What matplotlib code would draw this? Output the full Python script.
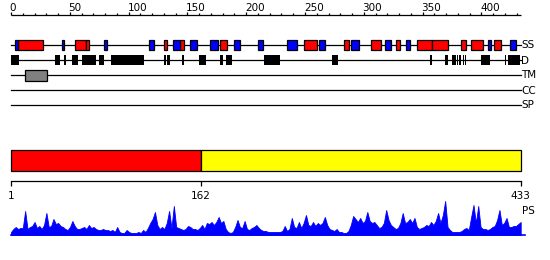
import matplotlib
matplotlib.use("Agg")
import matplotlib.pyplot as plt
from matplotlib.patches import Rectangle
import numpy as np

# ---------------- data ----------------
seq_len = 433
ruler_major = [0, 50, 100, 150, 200, 250, 300, 350, 400]
ruler_minor = list(range(0, 431, 10))

helices = [(6, 27), (54, 64), (64, 66), (130, 133), (144, 147), (178, 184),
           (249, 260), (283, 287), (306, 315), (327, 331), (345, 358), (358, 372),
           (383, 387), (391, 401), (411, 417)]
strands = [(3, 6), (43, 45), (79, 82), (117, 122), (138, 144), (152, 158),
           (169, 176), (190, 195), (210, 214), (235, 243), (262, 267), (289, 296),
           (318, 323), (336, 339), (406, 408), (424, 429)]
disorder = [(0, 7), (37, 42), (45, 47), (52, 57), (60, 72), (75, 79), (85, 113),
            (130, 132), (133, 135), (145, 147), (160, 166), (178, 180), (183, 188),
            (215, 229), (273, 278), (356, 358), (369, 372), (375, 378), (379, 380),
            (381, 383), (384, 385), (386, 387), (400, 407), (420, 421), (423, 433)]
transmem = [(12, 31)]
coiled = []
signal = []
track_names = ["SS", "D", "TM", "CC", "SP"]

domain_bounds = [1, 162, 433]
domain_colors = ["#ff0000", "#ffff00"]

ps_res = list(range(1, 434, 2))
ps_val = [3, 6, 8, 6, 7, 7, 24, 6, 8, 9, 13, 7, 9, 6, 10, 22, 8, 9, 16, 11,
          12, 9, 8, 6, 5, 8, 14, 9, 6, 6, 7, 8, 6, 10, 7, 8, 6, 5, 5, 6,
          5, 5, 4, 5, 3, 8, 3, 2, 2, 5, 3, 2, 2, 2, 3, 2, 5, 3, 7, 12,
          16, 23, 10, 6, 8, 6, 12, 24, 7, 29, 8, 7, 6, 5, 6, 9, 8, 6, 6, 5,
          7, 10, 6, 12, 11, 13, 10, 13, 18, 12, 14, 6, 3, 2, 3, 8, 15, 8, 7, 14,
          6, 5, 7, 8, 10, 7, 5, 4, 4, 3, 3, 3, 3, 3, 3, 4, 9, 4, 6, 17,
          8, 7, 13, 7, 12, 20, 10, 9, 13, 9, 12, 10, 12, 18, 10, 6, 5, 4, 6, 3,
          3, 2, 2, 4, 10, 19, 16, 13, 17, 12, 14, 23, 14, 12, 13, 10, 7, 8, 12, 25,
          15, 10, 8, 6, 7, 12, 22, 12, 13, 16, 12, 17, 8, 6, 7, 8, 10, 9, 13, 10,
          14, 22, 12, 20, 34, 8, 5, 3, 3, 3, 3, 4, 6, 7, 5, 18, 30, 12, 29, 8,
          6, 6, 5, 6, 8, 9, 15, 25, 10, 12, 17, 8, 8, 9, 9, 11, 13]

# ---------------- figure ----------------
W, H = 550, 260
fig = plt.figure(figsize=(W / 100, H / 100), dpi=100)

# top axes: residue 0 -> px 11, 1.176 px / residue
s1 = 1.176
ax = fig.add_axes([0, 0, 1, 1])
ax.set_xlim(-11 / s1, (W - 11) / s1)
ax.set_ylim(H, 0)
ax.axis("off")

# bottom axes: residue 1 -> px 11, residue 433 -> px 520.7
s2 = (520.7 - 11) / (seq_len - 1)
ax2 = fig.add_axes([0, 0, 1, 1])
ax2.set_xlim(1 - 11 / s2, 1 + (W - 11) / s2)
ax2.set_ylim(H, 0)
ax2.axis("off")
ax2.patch.set_alpha(0)

lw = 0.9
fs = 7.5
font = "DejaVu Sans"

# ruler
ax.plot([0, seq_len + 0.5], [15, 15], color="black", lw=lw, solid_capstyle="butt")
for t in ruler_minor:
    top = 12 if t in ruler_major else 13
    ax.plot([t, t], [top, 15], color="black", lw=lw, solid_capstyle="butt")
for t in ruler_major:
    ax.text(t - 1.0, 10.8, str(t), ha="left", va="baseline", fontsize=fs,
            family=font)

row_y = {"SS": 45, "D": 60, "TM": 75, "CC": 90, "SP": 105}
for name in track_names:
    y = row_y[name]
    ax.plot([0, seq_len + 0.5], [y, y], color="black", lw=lw, zorder=1)
    ax.text(433.6, y + 0.5, name, ha="left", va="center", fontsize=fs, family=font)

def boxes(segs, y, h, color, edge=True):
    for a, b in segs:
        ax.add_patch(Rectangle((a, y - h / 2), b - a, h, facecolor=color,
                               edgecolor="black" if edge else color,
                               lw=lw if edge else 0, zorder=2))

boxes(helices, row_y["SS"], 10, "#ff0000")
boxes(strands, row_y["SS"], 10, "#0000ff")
boxes(disorder, row_y["D"], 10, "#000000", edge=False)
boxes(transmem, row_y["TM"], 11, "#808080")
boxes(coiled, row_y["CC"], 10, "#808080")
boxes(signal, row_y["SP"], 10, "#808080")

# domain bar
for i in range(len(domain_bounds) - 1):
    a, b = domain_bounds[i], domain_bounds[i + 1]
    ax2.add_patch(Rectangle((a, 150), b - a, 20.5, facecolor=domain_colors[i],
                            edgecolor="black", lw=lw, zorder=2))

# domain ruler
ax2.plot([1, seq_len], [180.5, 180.5], color="black", lw=lw)
for t in domain_bounds:
    ax2.plot([t, t], [180.5, 185.5], color="black", lw=lw, solid_capstyle="butt")
    ax2.text(t, 199, str(t), ha="center", va="baseline", fontsize=fs, family=font)

# PS profile
base = 235
ps_res_a = np.array(ps_res, dtype=float)
ps_val_a = np.array(ps_val, dtype=float)
ax2.fill_between(ps_res_a, base, base - ps_val_a, color="#0000ff", lw=0.6,
                 edgecolor="#0000ff")
ax2.plot([1, seq_len + 4], [base, base], color="#0000ff", lw=1.2)
ax2.text(434.5, 211, "PS", ha="left", va="center", fontsize=fs, family=font)

fig.savefig("out.png", dpi=100)
